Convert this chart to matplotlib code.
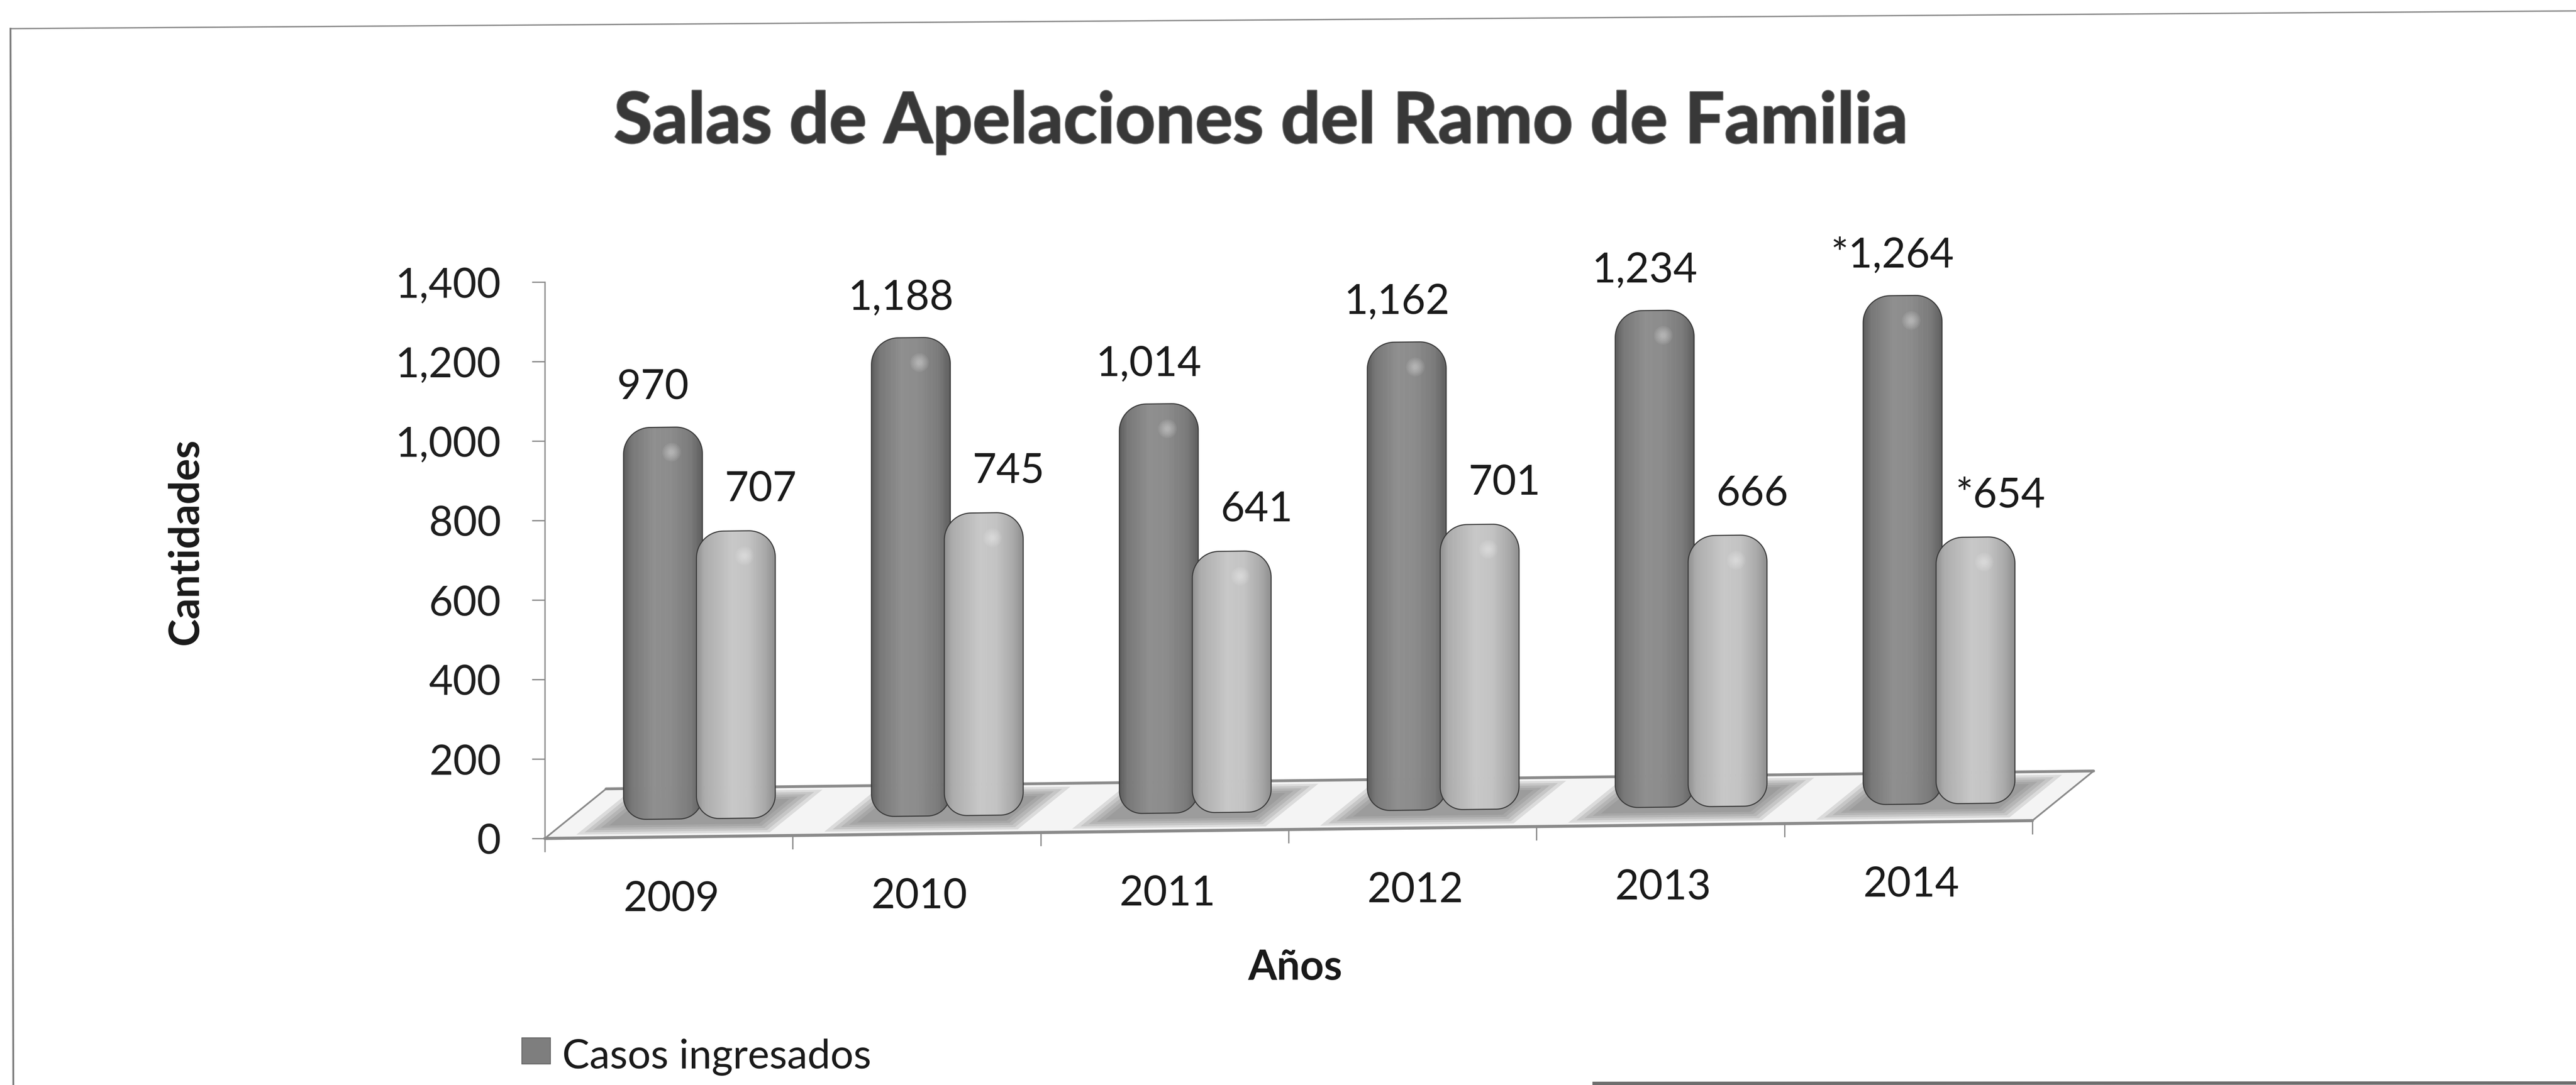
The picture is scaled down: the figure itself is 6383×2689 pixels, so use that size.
import numpy as np
import matplotlib
matplotlib.use("Agg")
import matplotlib.pyplot as plt
from matplotlib.patches import Polygon, Rectangle, Ellipse
from matplotlib.collections import PolyCollection
from matplotlib.colors import LinearSegmentedColormap
from matplotlib.transforms import Affine2D
from matplotlib.lines import Line2D
import matplotlib.patheffects as pe

# ---------------- data ----------------
years = ["2009", "2010", "2011", "2012", "2013", "2014"]
casos_ingresados = [970, 1188, 1014, 1162, 1234, 1264]
segunda_serie = [707, 745, 641, 701, 666, 654]
preliminar = [False, False, False, False, False, True]   # values marked with '*'
y_ticks = [0, 200, 400, 600, 800, 1000, 1200, 1400]

title = "Salas de Apelaciones del Ramo de Familia"
y_label = "Cantidades"
x_label = "Años"
legend_label = "Casos ingresados"

plt.rcParams["font.family"] = ["Lato", "DejaVu Sans"]

W, H, DPI = 6383, 2689, 100
fig = plt.figure(figsize=(W / DPI, H / DPI), dpi=DPI)
fig.patch.set_facecolor("white")

# plot area (front plane of the 3-D box)
ax_left, ax_right, ax_top, ax_bot = 1350, 5036, 699, 2078
ax = fig.add_axes([ax_left / W, 1 - ax_bot / H,
                   (ax_right - ax_left) / W, (ax_bot - ax_top) / H])
ax.set_xlim(0, len(years))
ax.set_ylim(0, 1400)
ax.patch.set_alpha(0)

AXIS_GRAY = "#8a8a8a"
for s in ("top", "right", "bottom"):
    ax.spines[s].set_visible(False)
ax.spines["left"].set_color(AXIS_GRAY)
ax.spines["left"].set_linewidth(2.3)
ax.set_xticks([])
ax.set_yticks(y_ticks)
ax.set_yticklabels([f"{v:,}" for v in y_ticks])
ax.tick_params(axis="y", direction="out", length=23, width=2.3, color=AXIS_GRAY,
               pad=55, labelsize=74, labelcolor="#1e1e1e")

# slight perspective shear of the floor and the columns
fig.canvas.draw()
px_x = ax.transData.transform((1, 0))[0] - ax.transData.transform((0, 0))[0]
px_y = ax.transData.transform((0, 1))[1] - ax.transData.transform((0, 0))[1]
x0_disp = ax.transAxes.transform((0, 0))[0]
k = 0.012
shear = Affine2D(np.array([[1.0, 0.0, 0.0], [k, 1.0, -k * x0_disp], [0.0, 0.0, 1.0]]))
tr = ax.transData + shear

# floor geometry: depth direction in data units
depth_dx, depth_dy = 0.247, 123.0
n = len(years)


def floor_pt(x, d):
    return (x + depth_dx * d, depth_dy * d)


# floor plate
floor = Polygon([floor_pt(0, 0), floor_pt(n, 0), floor_pt(n, 1), floor_pt(0, 1)],
                closed=True, facecolor="#f4f4f4", edgecolor="none",
                transform=tr, clip_on=False, zorder=1)
ax.add_patch(floor)

# soft shadows under each pair of columns
for i in range(n):
    for j in range(5):
        ins = 0.022 * j
        dins = 0.045 * j
        xa, xb = i + 0.11 + ins, i + 0.89 - ins
        da, db = 0.07 + dins, 0.93 - dins
        shp = Polygon([floor_pt(xa, da), floor_pt(xb, da), floor_pt(xb, db), floor_pt(xa, db)],
                      closed=True, facecolor="#6a6a6a", edgecolor="none", alpha=0.18,
                      transform=tr, clip_on=False, zorder=2)
        ax.add_patch(shp)

# floor outline
edge_kw = dict(color="#8a8a8a", transform=tr, clip_on=False, zorder=3, solid_capstyle="round")
ax.plot([floor_pt(0, 0)[0], floor_pt(n, 0)[0]], [0, 0], lw=5.5, **edge_kw)
ax.plot([floor_pt(0, 1)[0], floor_pt(n, 1)[0]], [depth_dy, depth_dy], lw=5.0, **edge_kw)
ax.plot([floor_pt(0, 0)[0], floor_pt(0, 1)[0]], [0, depth_dy], lw=3.0, **edge_kw)
ax.plot([floor_pt(n, 0)[0], floor_pt(n, 1)[0]], [0, depth_dy], lw=3.0, **edge_kw)

# category ticks below the front edge
tick_len = 32 / px_y
for i in range(n + 1):
    ax.plot([i, i], [0, -tick_len], color=AXIS_GRAY, lw=2.3, transform=tr,
            clip_on=False, zorder=3)

# columns
dark_cmap = LinearSegmentedColormap.from_list(
    "dark", [(0, "#5c5c5c"), (0.1, "#777777"), (0.38, "#8f8f8f"),
             (0.6, "#8c8c8c"), (0.86, "#7a7a7a"), (1, "#5e5e5e")])
light_cmap = LinearSegmentedColormap.from_list(
    "light", [(0, "#909090"), (0.1, "#acacac"), (0.45, "#c8c8c8"),
              (0.66, "#c3c3c3"), (0.87, "#aaaaaa"), (1, "#8e8e8e")])

bar_w = 0.318
pair_sep = 0.294
base = 45.0          # bottom of the rounded column, in data units above the front edge
top_off = 61.0       # columns stand at mid-depth of the floor


def capsule_outline(x0, y0, w, y1, r_top_px, r_bot_px, npts=24):
    """Rounded column outline in data units with circular corners on screen."""
    rxt, ryt = r_top_px / px_x, r_top_px / px_y
    rxb, ryb = r_bot_px / px_x, r_bot_px / px_y
    pts = []
    for cx, cy, rx, ry, a0, a1 in [
        (x0 + w - rxb, y0 + ryb, rxb, ryb, -np.pi / 2, 0.0),
        (x0 + w - rxt, y1 - ryt, rxt, ryt, 0.0, np.pi / 2),
        (x0 + rxt, y1 - ryt, rxt, ryt, np.pi / 2, np.pi),
        (x0 + rxb, y0 + ryb, rxb, ryb, np.pi, 1.5 * np.pi),
    ]:
        t = np.linspace(a0, a1, npts)
        pts.extend(zip(cx + rx * np.cos(t), cy + ry * np.sin(t)))
    return pts


def cylinder(xc, value, cmap, z):
    x0 = xc - bar_w / 2
    y0 = base
    y1 = value + top_off
    outline = Polygon(capsule_outline(x0, y0, bar_w, y1, 66, 56), closed=True,
                      transform=tr, facecolor="none", edgecolor="#3a3a3a", lw=1.9,
                      clip_on=False, zorder=z + 0.2)
    nstrip = 60
    xs = np.linspace(x0, x0 + bar_w, nstrip + 1)
    polys = [[(xs[m], y0), (xs[m + 1] + 1e-3, y0), (xs[m + 1] + 1e-3, y1), (xs[m], y1)]
             for m in range(nstrip)]
    cols = [cmap((m + 0.5) / nstrip) for m in range(nstrip)]
    pc = PolyCollection(polys, facecolors=cols, edgecolors="none", transform=tr,
                        zorder=z)
    ax.add_collection(pc)
    pc.set_clip_path(outline)
    # soft glint near the top
    gy = y1 - 62 / px_y
    for g in range(6):
        s = 1.0 - g * 0.15
        gl = Ellipse((xc + 0.035, gy), 0.075 * s, 46 / px_y * s, facecolor="white",
                     alpha=0.07, edgecolor="none", transform=tr, zorder=z + 0.1)
        ax.add_patch(gl)
        gl.set_clip_path(outline)
    ax.add_patch(outline)


for i in range(n):
    center = i + 0.5 + depth_dx / 2
    cylinder(center - pair_sep / 2, casos_ingresados[i], dark_cmap, 5)
    cylinder(center + pair_sep / 2, segunda_serie[i], light_cmap, 6)

# value labels
lab_kw = dict(transform=tr, ha="center", va="center", fontsize=74, color="#1a1a1a", zorder=8)
for i in range(n):
    center = i + 0.5 + depth_dx / 2
    star = "*" if preliminar[i] else ""
    ax.text(center - pair_sep / 2 - 0.04, casos_ingresados[i] + 162,
            f"{star}{casos_ingresados[i]:,}", **lab_kw)
    ax.text(center + pair_sep / 2 + 0.10, segunda_serie[i] + 165,
            f"{star}{segunda_serie[i]:,}", **lab_kw)

# category labels
for i, yr in enumerate(years):
    ax.text(i + 0.51, -157, yr, transform=tr, ha="center", va="center",
            fontsize=74, color="#1a1a1a", clip_on=False)

# titles
fig.text(3124 / W, 1 - 354 / H, title, ha="center", va="baseline", fontsize=125.5,
         fontweight="bold", color="#383838",
         path_effects=[pe.Stroke(linewidth=3, foreground="#6a6a6a"), pe.Normal()])
fig.text(460 / W, 1 - 1343 / H, y_label, ha="center", va="center", rotation=90,
         fontsize=74, fontweight="bold", color="#1a1a1a")
fig.text(3209 / W, 1 - 2398 / H, x_label, ha="center", va="center",
         fontsize=74, fontweight="bold", color="#1a1a1a")

# legend entry
fig.patches.append(Rectangle((1293 / W, 1 - 2637 / H), 71 / W, 65 / H,
                             transform=fig.transFigure, facecolor="#7e7e7e",
                             edgecolor="#555555", lw=1.2))
fig.text(1393 / W, 1 - 2648 / H, legend_label, ha="left", va="baseline",
         fontsize=73, color="#1a1a1a")

# chart frame
fig.add_artist(Line2D([26 / W, 1.0], [1 - 71 / H, 1 - 27 / H], transform=fig.transFigure,
                      color="#8a8a8a", lw=2.4))
fig.add_artist(Line2D([26 / W, 33 / W], [1 - 71 / H, 0.0], transform=fig.transFigure,
                      color="#7a7a7a", lw=3.2))
fig.add_artist(Line2D([3950 / W, 1.0], [1 - 2685 / H, 1 - 2684 / H], transform=fig.transFigure,
                      color="#6e6e6e", lw=6))

fig.savefig("out.png", dpi=DPI, facecolor="white")
